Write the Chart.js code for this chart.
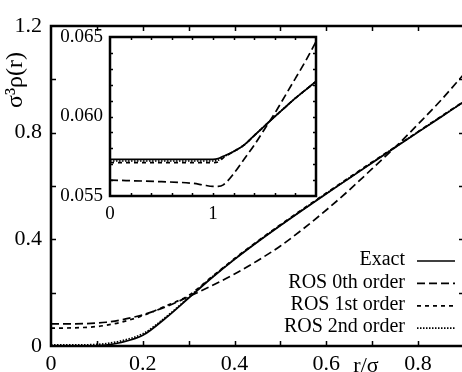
<!DOCTYPE html>
<html>
<head>
<meta charset="utf-8">
<script src="https://cdn.jsdelivr.net/npm/chart.js@4/dist/chart.umd.min.js"></script>
<style>
  body { margin: 0; background: #fff; }
  #wrap { position: relative; width: 462px; height: 372px; overflow: hidden; background: #fff; }
  #main { position: absolute; left: 0; top: 0; }
  #inset { position: absolute; left: 0; top: 0; }
</style>
</head>
<body>
<div id="wrap">
  <canvas id="main" width="466" height="372"></canvas>
  <canvas id="inset" width="330" height="230"></canvas>
</div>
<script>
// main plot: r/sigma against sigma^3 rho(r)
const main_r = [0, 0.05, 0.1, 0.12, 0.15, 0.2, 0.25, 0.3, 0.35, 0.4, 0.45, 0.5, 0.55, 0.6, 0.65, 0.7, 0.76, 0.8, 0.85, 0.9];
const main_exact = [0, 0, 0.001, 0.003, 0.012, 0.04, 0.105, 0.18, 0.255, 0.325, 0.39, 0.452, 0.512, 0.571, 0.629, 0.687, 0.756, 0.802, 0.859, 0.916];
const main_ros0 = [0.083, 0.083, 0.086, 0.089, 0.097, 0.117, 0.147, 0.185, 0.226, 0.27, 0.32, 0.375, 0.44, 0.51, 0.585, 0.665, 0.762, 0.832, 0.922, 1.02];
const main_ros1 = [0.067, 0.068, 0.073, 0.078, 0.088, 0.114, 0.15, 0.19, 0.259, 0.328, 0.393, 0.455, 0.515, 0.574, 0.632, 0.69, 0.758, 0.804, 0.861, 0.918];
const main_ros2 = [0.004, 0.004, 0.006, 0.009, 0.018, 0.046, 0.108, 0.182, 0.257, 0.326, 0.391, 0.453, 0.513, 0.572, 0.63, 0.688, 0.757, 0.803, 0.86, 0.917];

// inset (zoom on the plateau)
const inset_r = [0, 0.5, 0.8, 0.9, 1.0, 1.05, 1.1, 1.2, 1.3, 1.4, 1.5, 1.6, 1.7, 1.8, 1.9, 2.0];
const inset_exact = [0.0573, 0.0573, 0.0573, 0.0573, 0.0573, 0.05735, 0.0575, 0.0578, 0.0582, 0.0588, 0.0594, 0.0600, 0.06058, 0.06115, 0.06168, 0.0622];
const inset_ros0 = [0.0560, 0.0559, 0.0558, 0.0557, 0.0556, 0.0556, 0.0557, 0.0564, 0.0573, 0.0582, 0.0592, 0.0602, 0.0613, 0.0624, 0.0635, 0.0647];
const inset_ros1 = [0.0571, 0.0571, 0.0571, 0.0571, 0.0571, 0.05715, 0.0574, 0.0578, 0.0582, 0.0588, 0.0594, 0.0600, 0.06058, 0.06115, 0.06168, 0.0622];
const inset_ros2 = [0.0572, 0.0572, 0.0572, 0.0572, 0.0572, 0.05725, 0.05745, 0.0578, 0.0582, 0.0588, 0.0594, 0.0600, 0.06058, 0.06115, 0.06168, 0.0622];

const series_names = ["Exact", "ROS 0th order", "ROS 1st order", "ROS 2nd order"];

// tick labels and tick marks
const main_x_labels = [0, 0.2, 0.4, 0.6, 0.8];
const main_y_labels = [0, 0.4, 0.8, 1.2];
const main_x_marks = [0.1, 0.2, 0.3, 0.4, 0.5, 0.6, 0.7, 0.8];
const main_y_marks = [0.2, 0.4, 0.6, 0.8, 1.0];
const inset_x_labels = [0, 1];
const inset_y_labels = [0.055, 0.060, 0.065];
const inset_x_marks = [0.2, 0.4, 0.6, 0.8, 1.0, 1.2, 1.4, 1.6, 1.8];
const inset_y_marks = [0.056, 0.057, 0.058, 0.059, 0.060, 0.061, 0.062, 0.063, 0.064];

const serif = "'Liberation Serif', 'DejaVu Serif', serif";
const dashes = [[], [8, 4], [4, 4], [1.5, 1.5]];

function makeDatasets(xs, ys_list) {
    return ys_list.map((ys, i) => ({
        label: series_names[i],
        data: xs.map((x, j) => ({x: x, y: ys[j]})),
        borderColor: '#000',
        borderWidth: 1.7,
        borderDash: dashes[i],
        pointRadius: 0,
        fill: false,
        cubicInterpolationMode: 'monotone'
    }));
}

// frame and inward tick marks on all four sides
const frameTicks = {
    id: 'frameTicks',
    afterDatasetsDraw(chart, args, opts) {
        const ctx = chart.ctx;
        const a = chart.chartArea;
        const x = chart.scales.x, y = chart.scales.y;
        ctx.save();
        ctx.strokeStyle = '#000';
        ctx.setLineDash([]);
        ctx.lineWidth = 1.5;
        ctx.beginPath();
        opts.xMarks.forEach(v => {
            const px = Math.round(x.getPixelForValue(v)) + 0.5;
            ctx.moveTo(px, a.bottom); ctx.lineTo(px, a.bottom - opts.len);
            ctx.moveTo(px, a.top); ctx.lineTo(px, a.top + opts.len);
        });
        opts.yMarks.forEach(v => {
            const py = Math.round(y.getPixelForValue(v)) + 0.5;
            ctx.moveTo(a.left, py); ctx.lineTo(a.left + opts.len, py);
            ctx.moveTo(a.right, py); ctx.lineTo(a.right - opts.len, py);
        });
        ctx.stroke();
        ctx.lineWidth = opts.frame;
        ctx.strokeRect(a.left, a.top, a.width, a.height);
        ctx.restore();
    }
};

const whiteArea = {
    id: 'whiteArea',
    beforeDraw(chart) {
        const a = chart.chartArea;
        chart.ctx.save();
        chart.ctx.fillStyle = '#fff';
        chart.ctx.fillRect(a.left, a.top, a.width, a.height);
        chart.ctx.restore();
    }
};

// axis titles and the line-sample legend of the main plot
const mainDecor = {
    id: 'mainDecor',
    afterDraw(chart) {
        const ctx = chart.ctx;
        ctx.save();
        ctx.fillStyle = '#000';
        ctx.font = '22px ' + serif;
        ctx.textAlign = 'center';
        ctx.textBaseline = 'middle';
        ctx.fillText('r/σ', 366, 366);
        ctx.font = '24px ' + serif;
        ctx.translate(16, 80);
        ctx.rotate(-Math.PI / 2);
        ctx.fillText('σ³ρ(r)', 0, 0);
        ctx.restore();

        ctx.save();
        ctx.font = '20px ' + serif;
        ctx.textAlign = 'right';
        ctx.textBaseline = 'middle';
        ctx.fillStyle = '#000';
        chart.data.datasets.forEach((ds, i) => {
            const ly = 260 + i * 22.4;
            ctx.fillText(ds.label, 405, ly);
            ctx.strokeStyle = '#000';
            ctx.lineWidth = ds.borderWidth;
            ctx.setLineDash(ds.borderDash);
            ctx.beginPath();
            ctx.moveTo(417, ly + 1);
            ctx.lineTo(455, ly + 1);
            ctx.stroke();
        });
        ctx.restore();
    }
};

new Chart(document.getElementById('main'), {
    type: 'line',
    data: { datasets: makeDatasets(main_r, [main_exact, main_ros0, main_ros1, main_ros2]) },
    options: {
        responsive: false,
        animation: false,
        layout: { padding: { top: 26, right: 2, left: 0, bottom: 0 } },
        plugins: {
            legend: { display: false },
            tooltip: { enabled: false },
            frameTicks: { xMarks: main_x_marks, yMarks: main_y_marks, len: 5, frame: 2.5 }
        },
        scales: {
            x: {
                type: 'linear', min: 0, max: 0.9,
                grid: { display: false, drawTicks: false },
                border: { display: false },
                afterBuildTicks: s => { s.ticks = main_x_labels.map(v => ({value: v})); },
                afterFit: s => { s.height = 26; },
                ticks: { color: '#000', font: { family: serif, size: 22 }, padding: 5, maxRotation: 0 }
            },
            y: {
                type: 'linear', min: 0, max: 1.2,
                grid: { display: false, drawTicks: false },
                border: { display: false },
                afterBuildTicks: s => { s.ticks = main_y_labels.map(v => ({value: v})); },
                afterFit: s => { s.width = 51; },
                ticks: { color: '#000', font: { family: serif, size: 22 }, padding: 9 }
            }
        }
    },
    plugins: [frameTicks, mainDecor]
});

new Chart(document.getElementById('inset'), {
    type: 'line',
    data: { datasets: makeDatasets(inset_r, [inset_exact, inset_ros0, inset_ros1, inset_ros2]) },
    options: {
        responsive: false,
        animation: false,
        layout: { padding: { top: 37, right: 14, left: 0, bottom: 0 } },
        plugins: {
            legend: { display: false },
            tooltip: { enabled: false },
            frameTicks: { xMarks: inset_x_marks, yMarks: inset_y_marks, len: 3, frame: 2.5 }
        },
        scales: {
            x: {
                type: 'linear', min: 0, max: 2,
                grid: { display: false, drawTicks: false },
                border: { display: false },
                afterBuildTicks: s => { s.ticks = inset_x_labels.map(v => ({value: v})); },
                afterFit: s => { s.height = 34; },
                ticks: { color: '#000', font: { family: serif, size: 19 }, padding: 7, maxRotation: 0 }
            },
            y: {
                type: 'linear', min: 0.055, max: 0.065,
                grid: { display: false, drawTicks: false },
                border: { display: false },
                afterBuildTicks: s => { s.ticks = inset_y_labels.map(v => ({value: v})); },
                afterFit: s => { s.width = 110; },
                ticks: { color: '#000', font: { family: serif, size: 19 }, padding: 7,
                         callback: v => v.toFixed(3) }
            }
        }
    },
    plugins: [whiteArea, frameTicks]
});
</script>
</body>
</html>
